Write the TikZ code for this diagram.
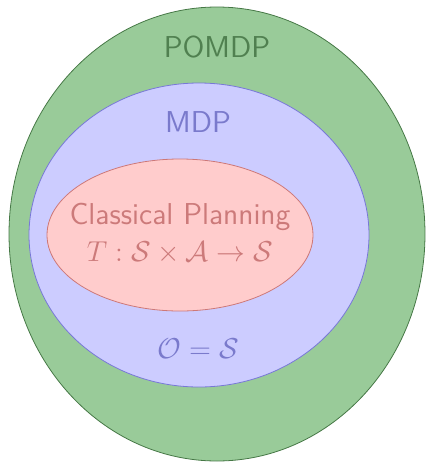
\documentclass[tikz,border=0pt]{standalone}
\usepackage{amsmath, amssymb}
\usepackage{tikz}
\usetikzlibrary{positioning}
\definecolor{pomdpfill}{RGB}{153,203,153}
\definecolor{pomdpline}{RGB}{70,120,70}
\definecolor{pomdptext}{RGB}{80,128,80}
\definecolor{mdpfill}{RGB}{204,204,255}
\definecolor{mdpline}{RGB}{120,120,215}
\definecolor{mdptext}{RGB}{122,122,204}
\definecolor{cpfill}{RGB}{255,204,204}
\definecolor{cpline}{RGB}{205,120,120}
\definecolor{cptext}{RGB}{204,122,122}
\tikzset{font=\fontsize{15.1}{18}\selectfont\sffamily}
\tikzset{setlabel/.style={inner sep=0pt, align=center}}

\begin{document}
\begin{tikzpicture}[x=0.5pt, y=-0.5pt]
  \useasboundingbox (0,0) rectangle (425,462);
  % the three nested classes
  \filldraw[fill=pomdpfill, draw=pomdpline, thin] (217,234) ellipse [x radius=208, y radius=227];
  \filldraw[fill=mdpfill, draw=mdpline, thin] (199,235) ellipse [x radius=170, y radius=152];
  \filldraw[fill=cpfill, draw=cpline, thin] (180,235) ellipse [x radius=133, y radius=76];
  % labels
  \node[setlabel, text=pomdptext] (pomdp) at (217,47) {POMDP};
  \node[setlabel, text=mdptext] (mdp) at (198,122) {MDP};
  \node[setlabel, text=cptext] (cp) at (180,217) {Classical Planning};
  \node[setlabel, text=cptext] (trans) at (180,253) {$T : \mathcal{S}\times\mathcal{A}\to\mathcal{S}$};
  \node[setlabel, text=mdptext] (obs) at (198,349) {$\mathcal{O} = \mathcal{S}$};
\end{tikzpicture}
\end{document}
